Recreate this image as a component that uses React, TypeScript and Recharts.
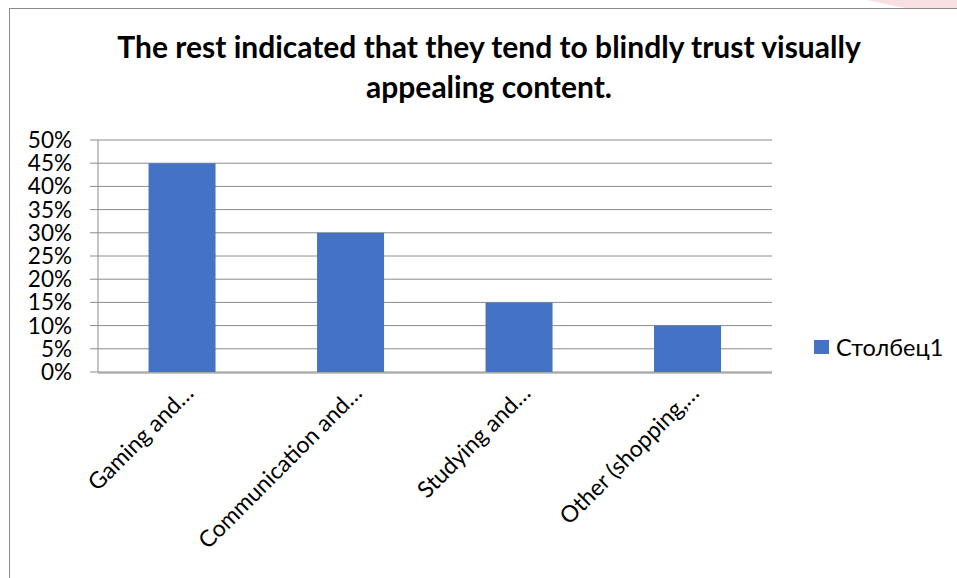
import { Bar, BarChart, CartesianGrid, XAxis, YAxis } from "recharts";

const categories = ["Gaming and…", "Communication and…", "Studying and…", "Other (shopping,…"];
const shares = [0.45, 0.3, 0.15, 0.1];
const yTicks = [0, 0.05, 0.1, 0.15, 0.2, 0.25, 0.3, 0.35, 0.4, 0.45, 0.5];
const boundaryTicks = [0, 1, 2, 3, 4];
const seriesName = "Столбец1";

const data = categories.map((name, i) => ({ name, value: shares[i] }));

const FONT = "Lato, 'Open Sans', sans-serif";
const BLUE = "#4472C4";
const GRID = "#8c8c8c";

const CategoryTick = (props: any) => {
  const { x, y, payload } = props;
  return (
    <g transform={`translate(${x + 7},${y + 9})`}>
      <text
        transform="rotate(-45)"
        textAnchor="end"
        dy={8}
        fontFamily={FONT}
        fontSize={23}
        fill="#000"
      >
        {payload.value}
      </text>
    </g>
  );
};

export default function App() {
  return (
    <div
      style={{
        position: "absolute",
        left: 0,
        top: 0,
        width: 957,
        height: 578,
        overflow: "hidden",
        background: "#fff",
      }}
    >
      <svg style={{ position: "absolute", left: 0, top: 0 }} width={957} height={40}>
        <polygon points="867,0 957,0 957,8 905,8" fill="#f7dfe2" />
      </svg>
      <div
        style={{
          position: "absolute",
          left: 9,
          top: 8,
          width: 970,
          height: 600,
          border: `1.5px solid ${GRID}`,
          boxSizing: "border-box",
        }}
      />
      <div
        style={{
          position: "absolute",
          left: 9,
          top: 26,
          width: 960,
          textAlign: "center",
          fontFamily: FONT,
          fontWeight: 700,
          fontSize: 30,
          lineHeight: "40px",
          color: "#000",
        }}
      >
        The rest indicated that they tend to blindly trust visually
        <br />
        appealing content.
      </div>
      <div style={{ position: "absolute", left: 0, top: 0 }}>
        <BarChart
          width={957}
          height={578}
          data={data}
          margin={{ top: 140, right: 185, bottom: 204, left: 97 }}
          barCategoryGap="30%"
        >
          <CartesianGrid xAxisId="cat" vertical={false} stroke={GRID} strokeWidth={1} />
          <XAxis
            xAxisId="edges"
            type="number"
            domain={[0, 4]}
            ticks={boundaryTicks}
            tick={false}
            tickSize={7}
            height={1}
            axisLine={{ stroke: GRID }}
            tickLine={{ stroke: GRID }}
          />
          <XAxis
            xAxisId="cat"
            dataKey="name"
            interval={0}
            height={1}
            axisLine={false}
            tickLine={false}
            tick={<CategoryTick />}
          />
          <YAxis
            width={1}
            domain={[0, 0.5]}
            ticks={yTicks}
            interval={0}
            tickFormatter={(v: number) => `${Math.round(v * 100)}%`}
            tickSize={8}
            tickMargin={18}
            axisLine={{ stroke: GRID }}
            tickLine={{ stroke: GRID }}
            tick={{ fontFamily: FONT, fontSize: 22.5, fill: "#000" }}
          />
          <Bar xAxisId="cat" dataKey="value" name={seriesName} fill={BLUE} isAnimationActive={false} />
        </BarChart>
      </div>
      <div
        style={{
          position: "absolute",
          left: 814,
          top: 333,
          display: "flex",
          alignItems: "center",
          fontFamily: FONT,
          fontSize: 23.5,
          color: "#000",
        }}
      >
        <span style={{ width: 15, height: 14, background: BLUE, marginRight: 7, display: "inline-block" }} />
        {seriesName}
      </div>
    </div>
  );
}
